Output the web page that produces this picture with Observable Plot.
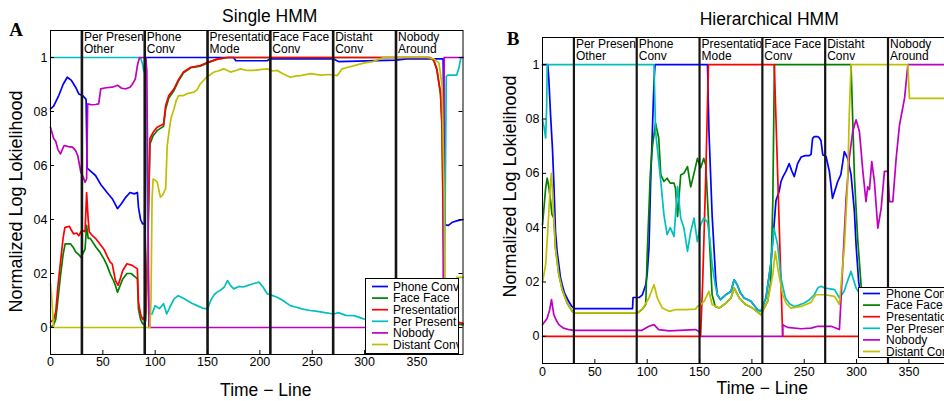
<!DOCTYPE html>
<html>
<head>
<meta charset="utf-8">
<script src="https://cdn.jsdelivr.net/npm/d3@7"></script>
<script src="https://cdn.jsdelivr.net/npm/@observablehq/plot@0.6"></script>
<style>
  html, body { margin: 0; padding: 0; background: #fff; }
  body { width: 944px; height: 401px; overflow: hidden; position: relative; font-family: "Liberation Sans", Arial, Helvetica, sans-serif; }
  .panel { position: absolute; top: 0; height: 401px; overflow: visible; }
  .panel svg { max-width: none !important; display: block; }
  .legend { position: absolute; background: #fff; border: 1px solid #000; box-sizing: border-box; overflow: hidden; }
  .legend svg { display: block; }
</style>
</head>
<body>
<div id="pa" class="panel" style="left:0px;width:470px"></div>
<div id="pb" class="panel" style="left:470px;width:493px"></div>
<div id="la" class="legend" style="left:365px;top:278px;width:94px;height:76px"></div>
<div id="lb" class="legend" style="left:858px;top:287px;width:110px;height:71px"></div>
<script>
// ---------- shared labels ----------
const seriesNames = ["Phone Conv", "Face Face", "Presentation", "Per Present", "Nobody", "Distant Conv"];
const seriesColors = ["#0000ff", "#008000", "#ff0000", "#00bfbf", "#bf00bf", "#bfbf00"];
const segStarts = [30, 90, 150, 210, 270, 330];
const segLine1 = ["Per Present", "Phone", "Presentation", "Face Face", "Distaht", "Nobody"];
const segLine2 = ["Other", "Conv", "Mode", "Conv", "Conv", "Around"];
const xTicks = [0, 50, 100, 150, 200, 250, 300, 350];
const yTicks = [0, 0.2, 0.4, 0.6, 0.8, 1];
const yTickLabels = ["0", "02", "04", "06", "08", "1"];
const xMax = 394;
const titleA = "Single HMM";
const titleB = "Hierarchical HMM";
const yLabel = "Normalized Log Lokielihood";
const xLabel = "Time \u2212 Line";

// ---------- Panel A: Single HMM ----------
const aPhone = [[0,0.81],[3,0.82],[8,0.86],[12,0.9],[16,0.927],[20,0.915],[24,0.89],[27,0.865],[31,0.858],[34,0.845],[35,0.59],[38,0.58],[43,0.563],[48,0.53],[54,0.5],[59,0.477],[62,0.455],[64,0.44],[68,0.46],[72,0.483],[76,0.5],[80,0.495],[83,0.5],[84,0.446],[86,0.4],[88,0.384],[90,0.384],[91,1],[175,1],[177,0.988],[207,0.988],[210,0.995],[270,0.995],[275,0.985],[330,0.99],[340,0.995],[375,0.995],[377,0.38],[380,0.378],[384,0.39],[388,0.395],[394,0.4]];
const aFace = [[0,0],[3,0.01],[5,0.03],[7,0.1],[9.5,0.19],[12,0.27],[14,0.31],[19,0.31],[22,0.295],[24,0.28],[27,0.27],[29,0.26],[31,0.275],[33,0.29],[34.5,0.378],[36,0.33],[38,0.33],[43.5,0.297],[47,0.28],[51,0.254],[54,0.23],[57,0.199],[60,0.175],[62,0.156],[64,0.131],[66,0.15],[69,0.18],[73,0.2],[77,0.2],[80,0.19],[83,0.18],[84,0.069],[86,0.03],[88,0.014],[90,0.01],[91,0.03],[93,0.3],[95,0.68],[98,0.71],[102,0.73],[108,0.745],[110,0.81],[113,0.85],[118,0.878],[122.5,0.915],[127,0.943],[134,0.962],[143,0.968],[151,0.982],[159,0.993],[169,1],[362,1],[366,0.99],[369,0.955],[372.5,0.865],[374,0.74],[375.5,0.3],[377,0.02],[394,0.01]];
const aPres = [[0,0.02],[3,0.03],[5,0.057],[7,0.15],[9.5,0.24],[12,0.33],[13.7,0.37],[18,0.375],[20,0.36],[22,0.347],[25,0.35],[27,0.34],[30,0.36],[33,0.355],[34.5,0.5],[36,0.4],[37,0.355],[40,0.34],[43.5,0.328],[47,0.31],[51,0.29],[54,0.265],[57,0.242],[59,0.235],[62,0.174],[64.6,0.156],[67,0.185],[69,0.211],[73,0.236],[78,0.23],[83,0.217],[84,0.094],[86,0.05],[88,0.03],[90,0.04],[91,0.057],[93,0.35],[95,0.7],[98,0.723],[102,0.742],[108,0.754],[110,0.822],[113,0.859],[118,0.884],[122.5,0.92],[127,0.946],[134,0.964],[143,0.97],[151,0.983],[159,0.994],[169,1],[362,1],[366,0.99],[369,0.958],[372.5,0.87],[374,0.75],[375.6,0.19],[377,0.03],[394,0.015]];
const aPerPres = [[0,1],[86,1],[88,0.975],[89,0.95],[90,0.96],[91,0.9],[93,0.3],[94,0.05],[97,0.05],[100,0.081],[104,0.07],[108,0.088],[111,0.05],[114,0.075],[118,0.106],[122,0.118],[126,0.11],[130.5,0.1],[135,0.09],[140,0.081],[145,0.072],[150,0.069],[153,0.1],[156,0.12],[159,0.131],[163,0.14],[166,0.15],[169,0.174],[172,0.155],[175,0.143],[180,0.152],[184,0.15],[188,0.155],[192,0.16],[196,0.165],[199,0.168],[203,0.15],[207,0.125],[211,0.12],[216.5,0.112],[222,0.1],[229,0.081],[235,0.075],[241,0.068],[248,0.063],[255,0.06],[262,0.055],[270.5,0.05],[275,0.055],[282,0.045],[290,0.044],[299,0.032],[310,0.03],[330,0.025],[360,0.02],[376,0.02],[378,0.93],[380,0.935],[388,0.935],[390,0.96],[392,1],[394,1]];
const aNobody = [[0,0.742],[3,0.7],[5,0.69],[7,0.66],[9.5,0.643],[13,0.674],[17,0.67],[21,0.668],[24,0.655],[26,0.637],[29,0.575],[31,0.56],[33,0.538],[34.5,0.55],[35.5,0.828],[39,0.825],[43,0.826],[46,0.828],[48,0.884],[53,0.888],[59,0.89],[64,0.897],[68,0.886],[72,0.884],[76,0.89],[78,0.9],[81,0.92],[83,0.97],[85,1],[91,1],[92,0.95],[93,0.5],[94,0],[375,0],[376,1],[394,1]];
const aDistant = [[0,0.163],[1,0.12],[3,0],[95,0],[96,0.1],[97,0.48],[98,0.55],[100,0.545],[102,0.538],[104,0.5],[105,0.483],[107,0.49],[110,0.514],[111.5,0.674],[113,0.72],[115,0.773],[118,0.81],[120,0.84],[122.5,0.859],[127,0.859],[130.5,0.866],[137,0.872],[140,0.88],[143,0.902],[149,0.927],[156,0.946],[160,0.95],[165.5,0.958],[172,0.946],[177,0.952],[181.5,0.958],[188,0.952],[194,0.952],[200,0.955],[207,0.958],[212,0.95],[216.5,0.952],[222,0.94],[229,0.927],[235,0.932],[239,0.933],[248.5,0.94],[258,0.935],[266,0.937],[274,0.933],[278.5,0.958],[285,0.965],[290,0.97],[300,0.98],[308,0.985],[315,0.995],[318,1],[360,1],[366,0.995],[371,0.98],[374,0.896],[376,0.5],[377,0],[384,0],[386,0.1],[388,0.186],[394,0.186]];

// ---------- Panel B: Hierarchical HMM ----------
const bPhone = [[0,1],[5,1],[6,0.95],[7.7,0.815],[9.5,0.692],[10.8,0.57],[12.4,0.386],[14,0.31],[15.6,0.264],[17,0.22],[18.8,0.19],[21,0.16],[25,0.129],[28,0.11],[30,0.104],[31,0.102],[86,0.102],[86.5,0.143],[92.5,0.143],[95.4,0.153],[98.6,0.19],[100,0.23],[101.7,0.325],[103.3,0.57],[104.9,0.75],[106.5,0.94],[107.5,1],[157.6,1],[159,0.754],[162,0.447],[165.6,0.2],[167,0.153],[170,0.135],[175,0.153],[180,0.165],[183,0.208],[186,0.19],[189,0.16],[192.6,0.141],[199,0.129],[205.5,0.098],[208.6,0.092],[213.4,0.141],[218,0.264],[221,0.4],[223,0.5],[226,0.533],[227.8,0.57],[230,0.59],[232.5,0.607],[235.6,0.636],[238,0.61],[240.5,0.588],[243.7,0.636],[247,0.66],[251,0.665],[254.8,0.665],[256.5,0.67],[258,0.729],[259.6,0.735],[263,0.735],[264.5,0.73],[266,0.72],[267.7,0.668],[270.8,0.662],[274,0.607],[277,0.508],[282,0.57],[285,0.595],[288.3,0.68],[291.5,0.655],[294.7,0.595],[297.9,0.46],[299.5,0.337],[302,0.2],[305,0.12],[394,0.1]];
const bFace = [[0,0.41],[3,0.545],[4.5,0.582],[6,0.55],[7.7,0.5],[9,0.45],[10.8,0.435],[12.4,0.325],[15.6,0.227],[18.8,0.172],[23.6,0.122],[28.4,0.092],[31,0.086],[90.6,0.086],[95.4,0.1],[98.6,0.117],[100,0.3],[103,0.6],[105,0.7],[108,0.784],[111,0.73],[113,0.594],[116,0.57],[119,0.582],[122,0.564],[125.6,0.564],[127,0.545],[129,0.441],[132,0.594],[135,0.6],[138.5,0.625],[141.6,0.55],[144.7,0.6],[148,0.655],[151,0.62],[154,0.655],[156,0.63],[159,0.39],[162,0.153],[165,0.11],[168.7,0.104],[173.5,0.117],[180,0.141],[183,0.178],[188,0.141],[194,0.117],[200.6,0.104],[208.6,0.08],[215,0.129],[218,0.2],[220,0.5],[221.5,1],[294.7,1],[298,0.582],[301,0.361],[304.5,0.178],[308,0.12],[394,0.1]];
const bPres = [[0,0],[151,0],[153,0.2],[156,0.6],[158.5,1],[221.4,1],[223,0.8],[226,0.42],[229.4,0],[394,0]];
const bPerPres = [[0,0.797],[1.5,0.77],[3,0.73],[4,0.85],[4.5,1],[106.5,1],[108,0.754],[110,0.68],[113,0.57],[116,0.447],[119,0.374],[122,0.4],[125.6,0.368],[129,0.551],[132,0.435],[135,0.4],[138.5,0.3125],[141.6,0.386],[144.7,0.435],[147.9,0.349],[151,0.41],[154,0.435],[157.6,0.42],[160,0.35],[162,0.264],[165,0.19],[167,0.153],[170,0.135],[175,0.153],[180,0.165],[183,0.208],[186,0.19],[189,0.16],[192.6,0.141],[199,0.129],[205.5,0.098],[208.6,0.092],[213.4,0.141],[218,0.264],[221,0.398],[224.6,0.337],[227.8,0.214],[232,0.141],[236,0.12],[240.5,0.11],[245,0.115],[250,0.123],[255,0.135],[259.6,0.153],[263,0.178],[266,0.184],[269.5,0.178],[275,0.175],[279,0.172],[283.6,0.141],[288,0.165],[291,0.2],[294.7,0.239],[299.5,0.178],[304,0.15],[394,0.14]];
const bNobody = [[0,0.043],[4.5,0.067],[7,0.1],[8.6,0.135],[10.8,0.08],[13,0.06],[15.6,0.043],[20,0.03],[25,0.025],[30,0.022],[95,0.022],[101.7,0.037],[106.5,0.043],[111,0.025],[121,0.02],[146,0.025],[149.5,0.018],[151,0],[229.4,0],[229.5,0.043],[234,0.033],[247,0.028],[256.5,0.03],[263,0.037],[275.7,0.037],[283.6,0.025],[285.2,0.141],[286.8,0.264],[290,0.508],[293,0.655],[296.3,0.754],[299.5,0.797],[302.7,0.754],[306,0.607],[309,0.496],[310.6,0.55],[312.3,0.54],[314.5,0.643],[317,0.57],[320.3,0.398],[323.5,0.472],[326.6,0.607],[329.8,0.607],[331.4,0.496],[334.6,0.496],[337.8,0.655],[341,0.778],[345.8,0.876],[349,1],[394,1]];
const bDistant = [[0,0.2],[3,0.264],[5,0.386],[7.7,0.57],[8.6,0.6],[10.8,0.435],[12.4,0.325],[15.6,0.227],[18.8,0.172],[23.6,0.122],[28.4,0.092],[31,0.086],[90.6,0.086],[95.4,0.1],[101.7,0.141],[104,0.165],[106.5,0.19],[109.7,0.141],[114.5,0.104],[120.9,0.092],[127,0.098],[136.7,0.098],[146,0.1],[148,0.11],[152,0.12],[154.4,0.129],[157,0.15],[159,0.165],[162,0.117],[168.7,0.104],[173.5,0.117],[180,0.141],[183,0.178],[188,0.141],[194,0.117],[200.6,0.104],[205,0.09],[208.6,0.08],[215,0.129],[220,0.227],[222.3,0.3125],[225.2,0.239],[229.4,0.153],[233,0.12],[237.3,0.104],[247,0.11],[256.5,0.125],[261,0.153],[269.5,0.153],[279,0.147],[283.6,0.117],[286.8,0.264],[288.3,0.325],[291.5,0.57],[293,0.815],[294.7,1],[349,1],[350.5,0.876],[394,0.876]];

const FONT = '"Liberation Sans", Arial, Helvetica, sans-serif';

function makePanel(p) {
  const innerW = p.width - p.ml - p.mr;
  const innerH = p.height - p.mt - p.mb;
  const kx = innerW / xMax;            // px per x unit
  const ky = innerH / 1.2;             // px per y unit
  const segs = segStarts.map((s, i) => ({
    start: s,
    end: i < segStarts.length - 1 ? segStarts[i + 1] : xMax,
    l1: segLine1[i], l2: segLine2[i]
  }));
  const lineMarks = p.series.map((pts, i) =>
    Plot.line(pts.map(([t, v]) => ({t, v})), {
      x: "t", y: "v", stroke: seriesColors[i], strokeWidth: 1.7,
      strokeLinejoin: "round", strokeLinecap: "round"
    }));
  const labelMarks = segs.flatMap(s => [
    Plot.rect([s], {x1: "start", x2: "end", y1: 1.012, y2: 1.1, fill: "white"}),
    Plot.text([s], {x: "start", text: "l1", frameAnchor: "top", textAnchor: "start", lineAnchor: "middle", dx: 2, dy: p.lab1, fontSize: 12, fill: "black"}),
    Plot.text([s], {x: "start", text: "l2", frameAnchor: "top", textAnchor: "start", lineAnchor: "middle", dx: 2, dy: p.lab2, fontSize: 12, fill: "black"})
  ]);
  const tl = 4;
  return Plot.plot({
    width: p.width, height: p.height,
    marginLeft: p.ml, marginRight: p.mr, marginTop: p.mt, marginBottom: p.mb,
    x: {domain: [0, xMax]},
    y: {domain: [-0.1, 1.1]},
    style: {fontFamily: FONT, fontSize: "12px", background: "transparent", color: "black", overflow: "visible", maxWidth: "none"},
    marks: [
      ...lineMarks,
      ...labelMarks,
      Plot.ruleX(segStarts, {x: d => d, stroke: "#151515", strokeWidth: p.sepW}),
      Plot.frame({stroke: "black", strokeWidth: 1}),
      Plot.ruleY(yTicks, {y: d => d, x1: 0, x2: tl / kx, stroke: "black"}),
      Plot.ruleY(yTicks, {y: d => d, x1: xMax - tl / kx, x2: xMax, stroke: "black"}),
      Plot.ruleX(xTicks, {x: d => d, y1: -0.1, y2: -0.1 + tl / ky, stroke: "black"}),
      Plot.axisX({ticks: xTicks, anchor: "bottom", tickSize: 0, tickPadding: p.xpad, fontSize: 12.5, label: null, tickFormat: d => String(d)}),
      Plot.axisY({ticks: yTicks, anchor: "left", tickSize: 0, tickPadding: 3, fontSize: 12.5, label: null,
        tickFormat: d => yTickLabels[yTicks.indexOf(d)]}),
      Plot.text([p.title], {frameAnchor: "top", textAnchor: "middle", lineAnchor: "middle", dx: p.titleDx, dy: p.titleDy, fontSize: 17.5, fill: "black"}),
      Plot.text([xLabel], {frameAnchor: "bottom", textAnchor: "middle", lineAnchor: "middle", dx: p.xlDx, dy: p.xlDy, fontSize: 17.5, fill: "black"}),
      Plot.text([yLabel], {frameAnchor: "left", textAnchor: "middle", lineAnchor: "middle", rotate: -90, dx: p.ylDx, dy: p.ylDy, fontSize: 18, fill: "black"}),
      Plot.text([p.letter], {frameAnchor: "top-left", textAnchor: "middle", lineAnchor: "middle", dx: p.letDx, dy: p.letDy, fontSize: 19, fontWeight: "bold",
        fontFamily: '"Liberation Serif", "Times New Roman", serif', fill: "black"})
    ]
  });
}

const panelA = makePanel({
  width: 470, height: 401, ml: 50, mr: 7.5, mt: 30, mb: 47,
  series: [aPhone, aFace, aPres, aPerPres, aNobody, aDistant],
  lab1: 7, lab2: 19, sepW: 2.6, xpad: 3,
  title: titleA, titleDx: 13, titleDy: -14.5,
  xlDx: 9, xlDy: 36, ylDx: -34.5, ylDy: 9,
  letter: "A", letDx: -34.5, letDy: -1
});
const panelB = makePanel({
  width: 493, height: 401, ml: 72, mr: 8.5, mt: 37, mb: 38,
  series: [bPhone, bFace, bPres, bPerPres, bNobody, bDistant],
  lab1: 6.5, lab2: 19, sepW: 2.2, xpad: 4,
  title: titleB, titleDx: 20.5, titleDy: -18.5,
  xlDx: 13.5, xlDy: 25, ylDx: -32, ylDy: -14,
  letter: "B", letDx: -29.5, letDy: 1.5
});
document.getElementById("pa").appendChild(panelA);
document.getElementById("pb").appendChild(panelB);

function makeLegend(el, w, h, rowTop, rowGap, lx1, lx2, tx) {
  const svg = d3.select(el).append("svg").attr("width", w).attr("height", h)
    .style("font-family", FONT).style("font-size", "12px");
  seriesNames.forEach((name, i) => {
    const y = rowTop + i * rowGap;
    svg.append("line").attr("x1", lx1).attr("x2", lx2).attr("y1", y).attr("y2", y)
      .attr("stroke", seriesColors[i]).attr("stroke-width", 1.7);
    svg.append("text").attr("x", tx).attr("y", y).attr("dy", "0.36em").attr("fill", "black").text(name);
  });
}
makeLegend(document.getElementById("la"), 94, 76, 7.5, 11.6, 6, 22, 27);
makeLegend(document.getElementById("lb"), 110, 71, 5.5, 11.6, 4, 21, 27);
</script>
</body>
</html>
